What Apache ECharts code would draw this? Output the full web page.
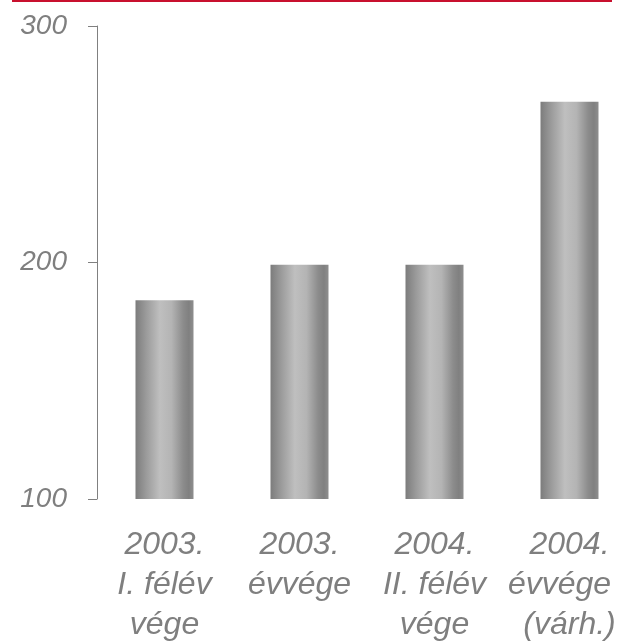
<!DOCTYPE html>
<html>
<head>
<meta charset="utf-8">
<script src="https://cdn.jsdelivr.net/npm/echarts@6/dist/echarts.min.js"></script>
<style>
  html, body { margin: 0; padding: 0; background: #fff; overflow: hidden; }
  #chart { width: 622px; height: 641px; }
</style>
</head>
<body>
<div id="chart"></div>
<script>
// Periods (x-axis categories)
const categories = [
  '2003.\nI. félév\nvége',
  '2003.\névvége',
  '2004.\nII. félév\nvége',
  '2004.\névvége\n(várh.)'
];
// Values per period
const values = [184, 199, 199, 268];
// Y-axis range and step
const yMin = 100;
const yMax = 300;
const yStep = 100;

const textGray = '#7f7f7f';
const fontFamily = 'Liberation Sans, Arial, sans-serif';
const labelFont = {
  color: textGray,
  fontSize: 32,
  fontStyle: 'italic',
  fontFamily: fontFamily,
  lineHeight: 40
};

// Cylinder-like horizontal shading for the bars
const barFill = new echarts.graphic.LinearGradient(0, 0, 1, 0, [
  { offset: 0.00, color: '#7c7c7c' },
  { offset: 0.18, color: '#9a9a9a' },
  { offset: 0.42, color: '#bfbfbf' },
  { offset: 0.62, color: '#b4b4b4' },
  { offset: 0.82, color: '#8c8c8c' },
  { offset: 0.92, color: '#808080' },
  { offset: 1.00, color: '#8e8e8e' }
]);

const chart = echarts.init(document.getElementById('chart'), null, { renderer: 'canvas' });
chart.setOption({
  animation: false,
  backgroundColor: '#ffffff',
  grid: {
    left: 97, top: 26, width: 540, height: 473,
    containLabel: false,
    outerBoundsMode: 'none'
  },
  graphic: [{
    type: 'line',
    shape: { x1: 12, y1: 1, x2: 612, y2: 1 },
    style: { stroke: '#c8102e', lineWidth: 2 }
  }],
  xAxis: {
    type: 'category',
    data: categories,
    axisLine: { show: false },
    axisTick: { show: false },
    axisLabel: Object.assign({
      interval: 0,
      margin: 26,
      align: 'center',
      // keep the widest line of the last label inside the right edge
      formatter: function (value, index) {
        const lines = value.split('\n');
        if (index === categories.length - 1) {
          lines[1] = '{shift|' + lines[1] + '}';
        }
        return lines.join('\n');
      },
      rich: {
        shift: Object.assign({ padding: [0, 20, 0, 0] }, labelFont)
      }
    }, labelFont)
  },
  yAxis: {
    type: 'value',
    min: yMin,
    max: yMax,
    interval: yStep,
    splitLine: { show: false },
    axisLine: { show: true, lineStyle: { color: '#808080', width: 1 } },
    axisTick: { show: true, length: 9, lineStyle: { color: '#808080', width: 1 } },
    axisLabel: {
      margin: 30,
      color: textGray,
      fontSize: 28,
      fontStyle: 'italic',
      fontFamily: fontFamily
    }
  },
  series: [{
    type: 'bar',
    data: values,
    barWidth: 58,
    itemStyle: { color: barFill }
  }]
});
</script>
</body>
</html>
